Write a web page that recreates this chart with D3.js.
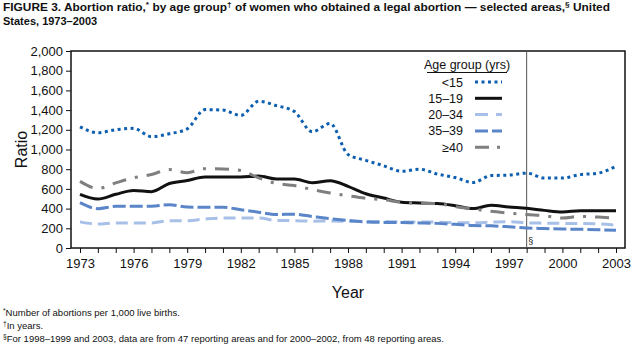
<!DOCTYPE html>
<html>
<head>
<meta charset="utf-8">
<script src="https://cdn.jsdelivr.net/npm/d3@7"></script>
<style>
  body { margin: 0; background: #fff; }
  svg { display: block; font-family: "Liberation Sans", Arial, sans-serif; }
</style>
</head>
<body>
<script>
// Abortion ratio by age group, 1973–2003
var years = [1973,1974,1975,1976,1977,1978,1979,1980,1981,1982,1983,1984,1985,1986,1987,1988,
             1989,1990,1991,1992,1993,1994,1995,1996,1997,1998,1999,2000,2001,2002,2003];
var under15 = [1230,1170,1200,1215,1130,1160,1210,1405,1400,1345,1490,1445,1385,1180,1265,950,
               890,835,780,800,750,715,665,735,740,760,710,710,745,760,830];
var age15to19 = [545,497,545,585,572,655,685,720,720,720,730,700,700,662,682,626,
                 551,507,465,457,451,429,400,433,416,403,382,366,378,379,379];
var age20to34 = [265,243,254,254,254,277,277,294,304,304,304,280,278,272,275,270,
                 268,268,265,265,262,258,255,262,268,256,252,250,250,245,232];
var age35to39 = [460,399,423,423,423,440,416,413,413,389,364,340,343,320,298,280,
                 265,260,260,255,250,240,228,225,215,203,198,193,190,186,179];
var age40plus = [676,605,661,712,746,797,765,805,803,786,712,655,634,593,559,530,
                 505,490,465,455,450,420,396,372,355,340,328,304,321,314,304];
var yTicks = [0,200,400,600,800,1000,1200,1400,1600,1800,2000];
var xLabels = [1973,1976,1979,1982,1985,1988,1991,1994,1997,2000,2003];
var groups = ["<15", "15–19", "20–34", "35–39", "≥40"];

var series = [
  {name: groups[0], values: under15,   color: "#0c5fb0", dash: "3,3.5",    key: "3,3.5"},
  {name: groups[1], values: age15to19, color: "#111111", dash: null,       key: null},
  {name: groups[2], values: age20to34, color: "#a8c0e8", dash: "12,6",     key: "13,8"},
  {name: groups[3], values: age35to39, color: "#5a85c8", dash: "13,4",     key: "13,4"},
  {name: groups[4], values: age40plus, color: "#7f7f7f", dash: "14,9,3,9", key: "14,8,3,9"}
];

var width = 640, height = 346;
var box = {left: 71, right: 625, top: 51, bottom: 248};

var svg = d3.select("body").append("svg")
    .attr("width", width)
    .attr("height", height);

// Adds "text" + superscript pieces to a text element
function withMarks(sel, parts) {
  parts.forEach(p => {
    if (p.sup) {
      sel.append("tspan").attr("font-size", "0.7em").attr("baseline-shift", "super").text(p.sup);
    } else {
      sel.append("tspan").text(p.t);
    }
  });
}

// Title
var title = svg.append("g")
    .attr("font-weight", "bold")
    .attr("font-size", 11)
    .attr("fill", "#111");
var t1 = title.append("text").attr("x", 3).attr("y", 11)
    .attr("textLength", 607).attr("lengthAdjust", "spacingAndGlyphs");
withMarks(t1, [
  {t: "FIGURE 3. Abortion ratio,"}, {sup: "*"},
  {t: " by age group"}, {sup: "†"},
  {t: " of women who obtained a legal abortion — selected areas,"}, {sup: "§"},
  {t: " United"}
]);
title.append("text").attr("x", 3).attr("y", 25)
    .text("States, 1973–2003");

// Scales
var x = d3.scaleLinear().domain([1973, 2003]).range([80, 616]);
var y = d3.scaleLinear().domain([0, 2000]).range([box.bottom, box.top]);

// Frame
svg.append("rect")
    .attr("x", box.left).attr("y", box.top)
    .attr("width", box.right - box.left).attr("height", box.bottom - box.top)
    .attr("fill", "none").attr("stroke", "#111").attr("stroke-width", 1.5);

// Y axis
var yAxis = d3.axisLeft(y).tickValues(yTicks).tickSize(5).tickPadding(3)
    .tickFormat(d3.format(","));
var gy = svg.append("g")
    .attr("transform", "translate(" + box.left + ",0)")
    .call(yAxis);
gy.select(".domain").remove();
gy.selectAll("line").attr("stroke", "#111");
gy.selectAll("text").attr("font-size", 13).attr("fill", "#111")
    .attr("font-family", "Liberation Sans, Arial, sans-serif");

// X axis: tick every year, label every third year
var xAxis = d3.axisBottom(x).tickValues(years).tickSize(5).tickPadding(6)
    .tickFormat(d => xLabels.indexOf(d) >= 0 ? d : "");
var gx = svg.append("g")
    .attr("transform", "translate(0," + box.bottom + ")")
    .call(xAxis);
gx.select(".domain").remove();
gx.selectAll("line").attr("stroke", "#111");
gx.selectAll("text").attr("font-size", 13).attr("fill", "#111")
    .attr("font-family", "Liberation Sans, Arial, sans-serif");

// Axis titles
svg.append("text")
    .attr("x", (box.left + box.right) / 2).attr("y", 298)
    .attr("text-anchor", "middle").attr("font-size", 16).attr("fill", "#111")
    .text("Year");
svg.append("text")
    .attr("transform", "translate(27," + ((box.top + box.bottom) / 2) + ") rotate(-90)")
    .attr("text-anchor", "middle").attr("font-size", 16).attr("fill", "#111")
    .text("Ratio");

// Reporting-area break in 1998
svg.append("line")
    .attr("x1", x(1998)).attr("x2", x(1998))
    .attr("y1", box.top).attr("y2", box.bottom)
    .attr("stroke", "#555").attr("stroke-width", 1);
svg.append("text")
    .attr("x", x(1998) + 1.5).attr("y", box.bottom - 4)
    .attr("font-size", 9).attr("fill", "#111")
    .text("§");

// Lines
var line = d3.line()
    .x((d, i) => x(years[i]))
    .y(d => y(d))
    .curve(d3.curveMonotoneX);

svg.selectAll(".series")
    .data(series)
    .enter()
    .append("path")
        .attr("class", "series")
        .attr("d", d => line(d.values))
        .attr("fill", "none")
        .attr("stroke", d => d.color)
        .attr("stroke-width", 3)
        .attr("stroke-linejoin", "round")
        .attr("stroke-dasharray", d => d.dash);

// Legend
var legend = svg.append("g");
legend.append("text")
    .attr("x", 467).attr("y", 69)
    .attr("text-anchor", "middle").attr("font-size", 12.5).attr("fill", "#111")
    .text("Age group (yrs)");
legend.append("line")
    .attr("x1", 427).attr("x2", 507).attr("y1", 72.5).attr("y2", 72.5)
    .attr("stroke", "#111").attr("stroke-width", 1.2);

var items = legend.selectAll(".item")
    .data(series)
    .enter()
    .append("g")
        .attr("class", "item")
        .attr("transform", (d, i) => "translate(0," + (82 + i * 16.3) + ")");
items.append("text")
    .attr("x", 463).attr("y", 4.5)
    .attr("text-anchor", "end").attr("font-size", 12.5).attr("fill", "#111")
    .text(d => d.name);
items.append("line")
    .attr("x1", 475).attr("x2", 502).attr("y1", 0).attr("y2", 0)
    .attr("stroke", d => d.color)
    .attr("stroke-width", 3)
    .attr("stroke-dasharray", d => d.key);

// Footnotes
var notes = svg.append("g").attr("font-size", 9.5).attr("fill", "#111");
withMarks(notes.append("text").attr("x", 3).attr("y", 316),
  [{sup: "*"}, {t: "Number of abortions per 1,000 live births."}]);
withMarks(notes.append("text").attr("x", 3).attr("y", 329),
  [{sup: "†"}, {t: "In years."}]);
withMarks(notes.append("text").attr("x", 3).attr("y", 342),
  [{sup: "§"}, {t: "For 1998–1999 and 2003, data are from 47 reporting areas and for 2000–2002, from 48 reporting areas."}]);
</script>
</body>
</html>
